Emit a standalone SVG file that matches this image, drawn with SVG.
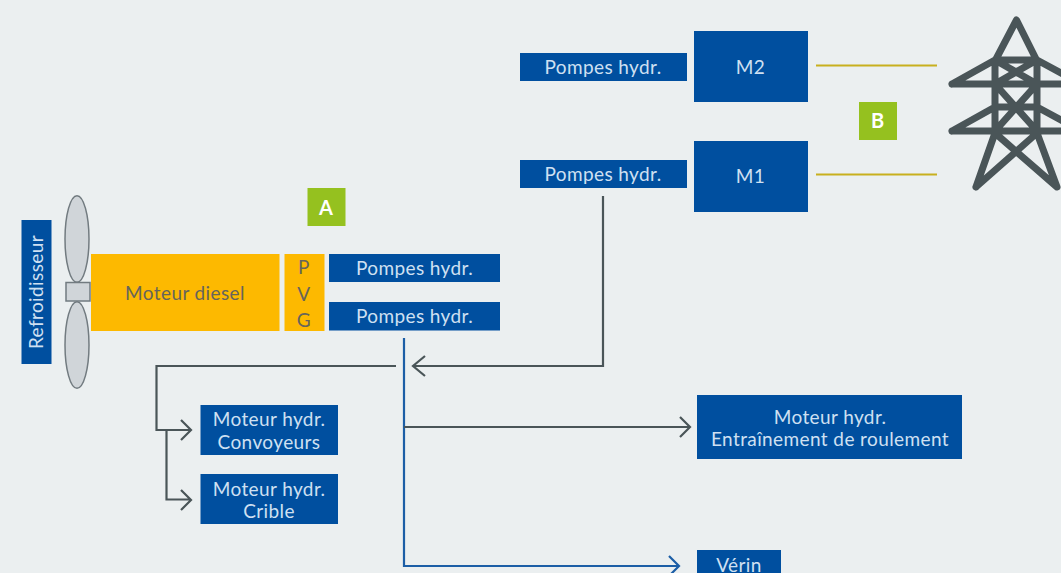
<svg xmlns="http://www.w3.org/2000/svg" width="1061" height="573" viewBox="0 0 1061 573">
<style>
.b{fill:#004f9f}.y{fill:#fdb900}.g{fill:#95c11f}
text{font-family:Lato,"Open Sans","Liberation Sans",sans-serif;font-size:19px;letter-spacing:.4px;text-anchor:middle}
.w{fill:#cfe0f2}.d{fill:#66645c}
.l{font-weight:700;font-size:20px;letter-spacing:0;fill:#fff}
.c{fill:none;stroke-width:2.2}
.gc{stroke:#4a5558}.bc{stroke:#1c5ea6}
.t{fill:none;stroke:#4a5558;stroke-width:7;stroke-linecap:round;stroke-linejoin:round}
.bl{fill:#d0d5d9;stroke:#727b80;stroke-width:1.5}
</style>
<rect width="1061" height="573" fill="#ebeff0"/>
<g id="connectors">
<path class="c gc" d="M603 196V366H413M425 356L413 366L425 376"/>
<path class="c gc" d="M396 366H156.500V430H191M181 420L191 430L181 440"/>
<path class="c gc" d="M166.500 430V499.500H191M181 490L191 500L181 510"/>
<path class="c bc" d="M404 338V566H679M669 556L679 566L669 576"/>
<path class="c gc" d="M404 427H690M680 417L690 427L680 437"/>
<path d="M816 65.500H937M816 174.500H937" fill="none" stroke="#c8b01e" stroke-width="2"/>
</g>
<g id="refroidisseur"><rect class="b" x="21.500" y="220" width="30" height="144"/><text class="w" transform="translate(43 292) rotate(-90)">Refroidisseur</text></g>
<g id="ventilateur"><ellipse class="bl" cx="77" cy="239" rx="12" ry="43.300"/><ellipse class="bl" cx="77" cy="345" rx="12" ry="43.300"/><rect class="bl" x="66" y="282.500" width="24" height="18.500"/></g>
<g id="moteur-diesel"><rect class="y" x="91" y="254" width="188.500" height="77"/><text class="d" x="185" y="300">Moteur diesel</text></g>
<g id="pvg"><rect class="y" x="284.500" y="254" width="40" height="77"/><text class="d" x="304" y="274">P</text><text class="d" x="304" y="301">V</text><text class="d" x="304" y="327">G</text></g>
<g id="pompes-a1"><rect class="b" x="329" y="254" width="171" height="28"/><text class="w" x="414.500" y="275">Pompes hydr.</text></g>
<g id="pompes-a2"><rect class="b" x="329" y="302" width="171" height="28.500"/><text class="w" x="414.500" y="323">Pompes hydr.</text></g>
<g id="label-a"><rect class="g" x="307.500" y="188" width="38" height="38"/><text class="l" x="326" y="214.500">A</text></g>
<g id="label-b"><rect class="g" x="859" y="102" width="38" height="38"/><text class="l" x="877.500" y="128">B</text></g>
<g id="pompes-b2"><rect class="b" x="520" y="53" width="167" height="28"/><text class="w" x="603" y="74">Pompes hydr.</text></g>
<g id="pompes-b1"><rect class="b" x="520" y="160" width="167" height="28"/><text class="w" x="603" y="181">Pompes hydr.</text></g>
<g id="m2"><rect class="b" x="694" y="31" width="114" height="71"/><text class="w" x="750.500" y="74">M2</text></g>
<g id="m1"><rect class="b" x="694" y="141" width="114" height="71"/><text class="w" x="750.500" y="183">M1</text></g>
<g id="moteur-convoyeurs"><rect class="b" x="200.500" y="405" width="137.500" height="50"/><text class="w" x="269" y="426">Moteur hydr.</text><text class="w" x="269" y="449">Convoyeurs</text></g>
<g id="moteur-crible"><rect class="b" x="200.500" y="474" width="137.500" height="50"/><text class="w" x="269" y="496">Moteur hydr.</text><text class="w" x="269" y="517.500">Crible</text></g>
<g id="moteur-roulement"><rect class="b" x="697" y="395" width="265" height="64"/><text class="w" x="830" y="424">Moteur hydr.</text><text class="w" x="830" y="446">Entraînement de roulement</text></g>
<g id="verin"><rect class="b" x="697" y="550" width="84" height="30"/><text class="w" x="739" y="572">Vérin</text></g>
<g id="pylone"><path class="t" d="M976 187L995 133V61L1016.500 20L1037 61V133L1057 187L995 133M976 187L1037 133M995 60H1037M952 84L995 60M1037 60L1081 84M952 84H1081M952 131L995 107M1037 107L1081 131M952 131H1081M995 107H1037M995 60L1037 84M1037 60L995 84M995 84L1037 131M1037 84L995 131"/></g>
</svg>
